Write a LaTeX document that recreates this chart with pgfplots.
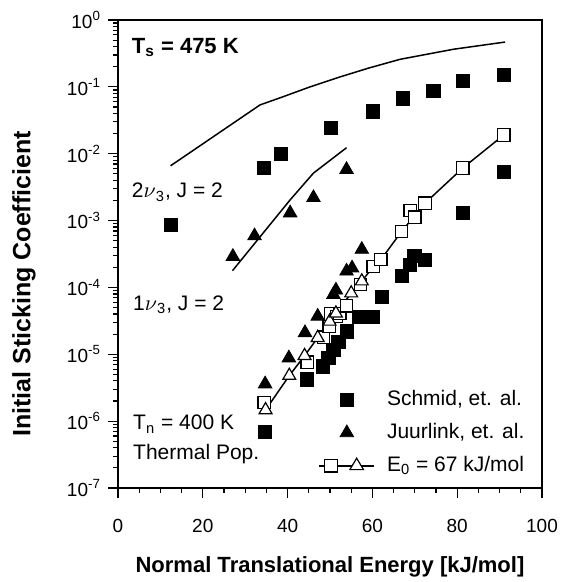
\documentclass[border=0pt]{standalone}
\usepackage{pgfplots}
\pgfplotsset{compat=1.18}
\usepackage{fontspec}
\setmainfont{Liberation Sans}

\begin{document}
\begin{tikzpicture}
\path[use as bounding box] (-59pt,-47pt) rectangle (221.5pt,244pt);
\begin{axis}[
    at={(0,0)}, anchor=south west,
    width=212pt, height=234pt, scale only axis,
    xmin=0, xmax=100, ymin=1e-7, ymax=1, ymode=log,
    xtick={0,20,...,100}, minor x tick num=3,
    ytick={1e-7,1e-6,1e-5,1e-4,1e-3,1e-2,1e-1,1},
    minor ytick={2e-7,3e-7,4e-7,5e-7,6e-7,7e-7,8e-7,9e-7,
                 2e-6,3e-6,4e-6,5e-6,6e-6,7e-6,8e-6,9e-6,
                 2e-5,3e-5,4e-5,5e-5,6e-5,7e-5,8e-5,9e-5,
                 2e-4,3e-4,4e-4,5e-4,6e-4,7e-4,8e-4,9e-4,
                 2e-3,3e-3,4e-3,5e-3,6e-3,7e-3,8e-3,9e-3,
                 2e-2,3e-2,4e-2,5e-2,6e-2,7e-2,8e-2,9e-2,
                 0.2,0.3,0.4,0.5,0.6,0.7,0.8,0.9},
    yticklabels={10\textsuperscript{-7},10\textsuperscript{-6},10\textsuperscript{-5},10\textsuperscript{-4},
                 10\textsuperscript{-3},10\textsuperscript{-2},10\textsuperscript{-1},10\textsuperscript{0}},
    tick pos=left, tick align=outside,
    major tick length=5pt, minor tick length=2.5pt,
    every tick/.style={black, line width=0.6pt},
    axis line style={line width=0.8pt},
    /pgf/number format/assume math mode=true,
    ticklabel style={font=\fontsize{9.5}{11}\selectfont},
    xticklabel style={yshift=-7pt},
    xlabel={Normal Translational Energy [kJ/mol]},
    ylabel={Initial Sticking Coefficient},
    xlabel style={font=\fontsize{11}{13}\selectfont\bfseries, at={(axis description cs:0.5,-0.169)}, anchor=center},
    ylabel style={font=\fontsize{12.5}{14}\selectfont\bfseries, at={(axis description cs:-0.222,0.436)}, anchor=center},
    legend cell align=left,
    legend style={draw=none, fill=none, inner sep=0pt, column sep=5pt,
        at={(axis description cs:0.472,0.216)}, anchor=north west,
        font=\fontsize{10.5}{12}\selectfont,
        nodes={text height=8pt, text depth=2.5pt, inner sep=1pt}, row sep=4pt},
  ]
  % Schmid et al.
  \addplot[only marks, mark=square*, mark size=3.3pt, black] coordinates {
      (12.4,8.5e-4) (34.7,7.0e-7) (34.5,6.2e-3) (38.5,9.9e-3) (44.5,4.2e-6)
      (48.4,6.6e-6) (49.6,8.8e-6) (50.2,2.4e-2) (50.8,1.17e-5) (52.0,1.55e-5)
      (53.9,2.2e-5) (56.9,3.6e-5) (60.2,3.6e-5) (60.2,4.3e-2) (62.2,7.3e-5)
      (67.0,1.5e-4) (67.1,6.7e-2) (68.9,2.2e-4) (69.9,3.0e-4) (72.4,2.6e-4)
      (74.4,8.7e-2) (81.3,1.22e-1) (81.3,1.3e-3) (91.0,1.5e-1) (91.0,5.4e-3)
    };
  \addlegendentry{Schmid, et. al.}
  % Juurlink et al.
  \addplot[only marks, mark=triangle*, mark size=3.9pt, black] coordinates {
      (27.1,2.9e-4) (32.2,5.9e-4) (34.7,3.6e-6) (40.3,8.8e-6) (40.6,1.3e-3)
      (44.1,2.1e-5) (46.1,2.2e-3) (47.1,3.7e-5) (50.8,7.8e-5) (51.4,9.1e-5)
      (53.9,1.75e-4) (55.2,1.95e-4) (53.9,5.8e-3) (57.5,3.7e-4)
    };
  \addlegendentry{Juurlink, et. al.}
  % curves
  \addplot[forget plot, black, line width=0.75pt] coordinates {
      (12.4,6.6e-3) (33.5,5.37e-2) (39,7.14e-2) (45.3,0.1) (52.4,0.141)
      (59,0.19) (66.5,0.258) (79.1,0.365) (91.3,0.468)
    };
  \addplot[forget plot, black, line width=0.75pt] coordinates {
      (27.0,1.78e-4) (40.6,2.04e-3) (46.1,5.13e-3) (53.9,1.23e-2)
    };
  \addplot[forget plot, black, line width=0.75pt] coordinates {
      (34.8,1.47e-6) (40.4,4.8e-6) (44.0,9.5e-6) (47.1,1.77e-5) (49.9,3.1e-5)
      (51.4,4.1e-5) (55.0,8.2e-5) (57.5,1.24e-4) (60.2,2.05e-4) (62.0,2.6e-4)
      (66.9,6.9e-4) (72.4,1.82e-3) (81.3,6.1e-3) (91.0,1.91e-2)
    };
  % model, E0 = 67 kJ/mol
  \addplot[forget plot, only marks, mark=square*, mark size=3.1pt,
      mark options={fill=white, draw=black, line width=0.6pt}] coordinates {
      (34.5,1.9e-6) (44.6,7.6e-6) (48.5,1.8e-5) (49.8,2.6e-5) (50.2,4.0e-5)
      (51.5,3.7e-5) (52.3,4.1e-5) (53.9,5.3e-5) (57.2,1.1e-4) (60.2,2.05e-4)
      (62.0,2.6e-4) (66.9,6.9e-4) (68.9,1.41e-3) (70.0,1.12e-3) (72.4,1.82e-3)
      (81.3,6.1e-3) (91.0,1.91e-2)
    };
  \addplot[forget plot, only marks, mark=triangle*, mark size=3.7pt,
      mark options={fill=white, draw=black, line width=0.6pt}] coordinates {
      (34.8,1.47e-6) (40.4,4.8e-6) (44.0,9.5e-6) (47.1,1.77e-5) (49.9,3.1e-5)
      (51.4,4.1e-5) (55.0,8.2e-5) (57.5,1.24e-4)
    };
  \addlegendimage{legend image code/.code={
      \draw[black, line width=0.75pt] (-5.25pt,0pt) -- (22.25pt,0pt);
      \draw[black, line width=0.6pt, fill=white] (-2.45pt,-3.1pt) rectangle (3.75pt,3.1pt);
      \draw[black, line width=0.6pt, fill=white] (10.05pt,-1.9pt) -- (16.85pt,-1.9pt) -- (13.45pt,3.8pt) -- cycle;
    }}
  \addlegendentry{E\textsubscript{0} = 67 kJ/mol}
  % annotations
  \node[anchor=base west, inner sep=0pt, font=\fontsize{11}{13}\selectfont\bfseries]
    at (axis description cs:0.032,0.929) {T\textsubscript{s} = 475 K};
  \node[anchor=base west, inner sep=0pt, font=\fontsize{10.5}{12}\selectfont]
    at (axis description cs:0.032,0.620) {2$\nu$\textsubscript{3}, J = 2};
  \node[anchor=base west, inner sep=0pt, font=\fontsize{10.5}{12}\selectfont]
    at (axis description cs:0.035,0.380) {1$\nu$\textsubscript{3}, J = 2};
  \node[anchor=base west, inner sep=0pt, font=\fontsize{10.5}{12}\selectfont]
    at (axis description cs:0.035,0.124) {T\textsubscript{n} = 400 K};
  \node[anchor=base west, inner sep=0pt, font=\fontsize{10.5}{12}\selectfont]
    at (axis description cs:0.035,0.060) {Thermal Pop.};
\end{axis}
\end{tikzpicture}
\end{document}
